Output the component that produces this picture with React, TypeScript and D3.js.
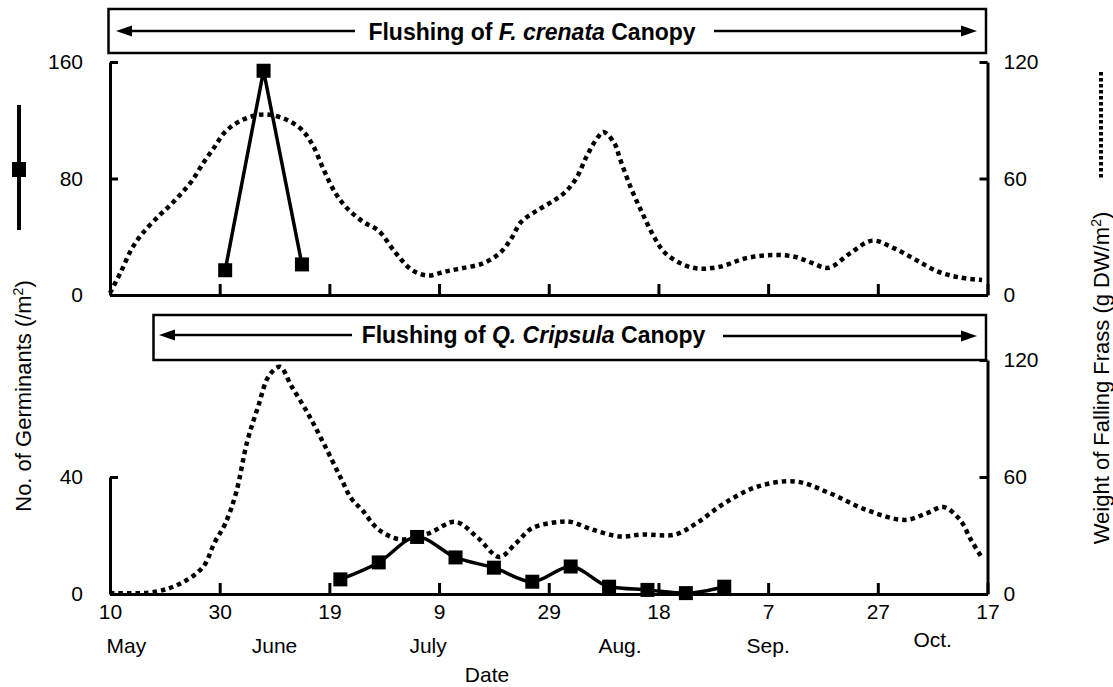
import React, { useEffect, useRef } from "react";
import * as d3 from "d3";

// Sampling dates (all within one season) and the measured series
const seasonStart = "May 10";
const seasonEnd = "Oct 17";
const xTickDates = ["May 10", "May 30", "Jun 19", "Jul 9", "Jul 29", "Aug 18", "Sep 7", "Sep 27", "Oct 17"];
const monthLabels = ["May", "June", "July", "Aug.", "Sep.", "Oct."];
const monthLabelDates = ["May 13", "Jun 9", "Jul 7", "Aug 11", "Sep 7", "Oct 7"];

// F. crenata: germinants (/m2)
const germCrenataDates = ["May 31", "Jun 7", "Jun 14"];
const germCrenataValues = [17, 154, 21];

// F. crenata: falling frass (g DW/m2)
const frassCrenataDates = [
  "May 10", "May 12", "May 14", "May 16", "May 19", "May 21", "May 23", "May 25", "May 27", "May 29",
  "May 31", "Jun 3", "Jun 7", "Jun 11", "Jun 14", "Jun 16", "Jun 18", "Jun 20", "Jun 22", "Jun 25",
  "Jun 28", "Jul 1", "Jul 4", "Jul 7", "Jul 10", "Jul 13", "Jul 17", "Jul 20", "Jul 22", "Jul 24",
  "Jul 27", "Jul 30", "Aug 1", "Aug 3", "Aug 5", "Aug 7", "Aug 8", "Aug 10", "Aug 11", "Aug 13",
  "Aug 15", "Aug 17", "Aug 19", "Aug 22", "Aug 25", "Aug 29", "Sep 3", "Sep 8", "Sep 12", "Sep 15",
  "Sep 18", "Sep 22", "Sep 26", "Sep 30", "Oct 4", "Oct 8", "Oct 12", "Oct 16",
];
const frassCrenataValues = [
  1, 12, 24, 32, 41, 46.3, 52.3, 59, 68, 76,
  84, 90, 93, 90.5, 85, 77, 64.3, 53, 45.4, 38,
  33, 22, 13, 10, 12, 13.7, 16.3, 21.4, 28.3, 37.7,
  43.7, 48.8, 53, 60, 72, 81.4, 84, 78, 70, 55,
  42.5, 31, 22.3, 16.3, 13.7, 14.4, 19, 20.6, 19.6, 16.5,
  14, 21.6, 28, 24, 18, 12, 9, 7.7,
];

// Q. crispula: germinants (/m2)
const germCrispulaDates = ["Jun 21", "Jun 28", "Jul 5", "Jul 12", "Jul 19", "Jul 26", "Aug 2", "Aug 9", "Aug 16", "Aug 23", "Aug 30"];
const germCrispulaValues = [5, 10.8, 19.5, 12.5, 9, 4.2, 9.4, 2.5, 1.4, 0.3, 2.5];

// Q. crispula: falling frass (g DW/m2)
const frassCrispulaDates = [
  "May 10", "May 18", "May 23", "May 27", "May 29", "May 31", "Jun 2", "Jun 4", "Jun 6", "Jun 8",
  "Jun 10", "Jun 12", "Jun 15", "Jun 18", "Jun 21", "Jun 23", "Jun 25", "Jun 28", "Jul 2", "Jul 7",
  "Jul 12", "Jul 16", "Jul 20", "Jul 23", "Jul 26", "Jul 31", "Aug 2", "Aug 6", "Aug 11", "Aug 15",
  "Aug 21", "Aug 25", "Aug 30", "Sep 5", "Sep 12", "Sep 18", "Sep 25", "Oct 2", "Oct 6", "Oct 9",
  "Oct 12", "Oct 14", "Oct 16",
];
const frassCrispulaValues = [
  0.5, 1, 5.6, 14, 26, 36, 52, 78, 96, 112,
  116.5, 107, 93, 77, 60, 49, 43, 33, 28, 31,
  37, 29, 19, 26, 33.8, 37, 37, 33, 29.5, 30.5,
  30.5, 36.4, 46.5, 55, 57.7, 52, 43, 38, 41.5, 44.6,
  38, 27.7, 18.5,
];

const germTicksTop = [0, 80, 160];
const germTicksBottom = [0, 40];
const frassTicks = [0, 60, 120];

const FONT = "'Liberation Sans', Arial, Helvetica, sans-serif";
const parse = d3.timeParse("%b %d");
const toDates = (a: string[]) => a.map((s) => parse(s) as Date);

export default function App() {
  const ref = useRef<SVGGElement | null>(null);

  useEffect(() => {
    const root = d3.select(ref.current);
    root.selectAll("*").remove();

    const x = d3.scaleTime().domain([parse(seasonStart)!, parse(seasonEnd)!]).range([110, 987.5]);
    const [xl, xr] = x.range();

    // Panel geometry
    const top = { y0: 295, y1: 62 };
    const bot = { y0: 594, y1: 360 };

    const yGermTop = d3.scaleLinear().domain([0, 160]).range([top.y0, top.y1]);
    const yFrassTop = d3.scaleLinear().domain([0, 120]).range([top.y0, top.y1]);
    const yGermBot = d3.scaleLinear().domain([0, 80]).range([bot.y0, bot.y1]);
    const yFrassBot = d3.scaleLinear().domain([0, 120]).range([bot.y0, bot.y1]);

    const styleAxis = (g: any) => {
      g.selectAll(".domain").attr("stroke", "#000").attr("stroke-width", 3);
      g.selectAll(".tick line").attr("stroke", "#000").attr("stroke-width", 3);
      g.selectAll(".tick text").attr("fill", "#000").style("font-family", FONT).style("font-size", "21px");
    };

    const tickDates = toDates(xTickDates);

    // ---- Axes ----
    const drawPanelAxes = (
      yG: d3.ScaleLinear<number, number>,
      gTicks: number[],
      yF: d3.ScaleLinear<number, number>,
      y0: number,
      labels: boolean
    ) => {
      const gx = root.append("g").attr("transform", `translate(0,${y0})`);
      gx.call(
        d3
          .axisBottom(x)
          .tickValues(tickDates)
          .tickSizeInner(-11)
          .tickSizeOuter(0)
          .tickPadding(10)
          .tickFormat((d: any) => (labels ? d3.timeFormat("%-d")(d) : ""))
      );
      styleAxis(gx);

      const gMax = gTicks[gTicks.length - 1];
      const axisGerm = yG.copy().domain([0, gMax]).range([yG(0), yG(gMax)]);
      const gl = root.append("g").attr("transform", `translate(${xl},0)`);
      gl.call(d3.axisLeft(axisGerm).tickValues(gTicks).tickSizeInner(-8).tickSizeOuter(0).tickPadding(27));
      styleAxis(gl);

      const gr = root.append("g").attr("transform", `translate(${xr},0)`);
      gr.call(d3.axisRight(yF).tickValues(frassTicks).tickSizeInner(-8).tickSizeOuter(0).tickPadding(16));
      styleAxis(gr);
    };

    drawPanelAxes(yGermTop, germTicksTop, yFrassTop, top.y0, false);
    drawPanelAxes(yGermBot, germTicksBottom, yFrassBot, bot.y0, true);

    // ---- Frass curves (dotted) ----
    const frassSeries: [string[], number[], d3.ScaleLinear<number, number>][] = [
      [frassCrenataDates, frassCrenataValues, yFrassTop],
      [frassCrispulaDates, frassCrispulaValues, yFrassBot],
    ];
    frassSeries.forEach(([ds, vs, yF]) => {
      const pts = toDates(ds).map((d, i) => [d, vs[i]] as [Date, number]);
      const line = d3
        .line<[Date, number]>()
        .x((d) => x(d[0]))
        .y((d) => yF(d[1]))
        .curve(d3.curveCatmullRom.alpha(0.5));
      root
        .append("path")
        .attr("d", line(pts))
        .attr("fill", "none")
        .attr("stroke", "#000")
        .attr("stroke-width", 4.5)
        .attr("stroke-dasharray", "4.5 4");
    });

    // ---- Germinant lines (solid with squares) ----
    const germSeries: [string[], number[], d3.ScaleLinear<number, number>, any][] = [
      [germCrenataDates, germCrenataValues, yGermTop, d3.curveLinear],
      [germCrispulaDates, germCrispulaValues, yGermBot, d3.curveMonotoneX],
    ];
    germSeries.forEach(([ds, vs, yG, curve]) => {
      const pts = toDates(ds).map((d, i) => [d, vs[i]] as [Date, number]);
      const line = d3
        .line<[Date, number]>()
        .x((d) => x(d[0]))
        .y((d) => yG(d[1]))
        .curve(curve);
      root
        .append("path")
        .attr("d", line(pts))
        .attr("fill", "none")
        .attr("stroke", "#000")
        .attr("stroke-width", 3.5);
      root
        .append("g")
        .selectAll("rect")
        .data(pts)
        .join("rect")
        .attr("x", (d) => x(d[0]) - 7)
        .attr("y", (d) => yG(d[1]) - 7)
        .attr("width", 14)
        .attr("height", 14)
        .attr("fill", "#000");
    });

    // ---- Month labels ----
    const monthDates = toDates(monthLabelDates);
    root
      .append("g")
      .selectAll("text")
      .data(monthLabels)
      .join("text")
      .attr("x", (_d, i) => x(monthDates[i]))
      .attr("y", (_d, i) => (i === 5 ? 647 : 653))
      .attr("text-anchor", "middle")
      .style("font-family", FONT)
      .style("font-size", "21px")
      .text((d) => d);
  }, []);

  const arrow = (x1: number, x2: number, y: number) => {
    // shaft from x1 to the arrow tip at x2
    const dir = Math.sign(x2 - x1);
    const base = x2 - dir * 16;
    return (
      <g>
        <line x1={x1} x2={base} y1={y} y2={y} stroke="#000" strokeWidth={2.5} />
        <polygon points={`${x2},${y} ${base},${y - 5.5} ${base},${y + 5.5}`} fill="#000" />
      </g>
    );
  };

  return (
    <svg
      width={1113}
      height={687}
      style={{ position: "absolute", left: 0, top: 0, background: "#fff", display: "block" }}
    >
      <g ref={ref as any} />
      {/* F. crenata banner */}
      <g>
        <rect x={108.5} y={9} width={877.5} height={44} fill="none" stroke="#000" strokeWidth={2.5} />
        {arrow(355, 116, 31)}
        {arrow(714, 977, 31)}
        <text x={532} y={40} textAnchor="middle" fontFamily={FONT} fontSize={23} fontWeight="bold">
          Flushing of <tspan fontStyle="italic">F. crenata</tspan> Canopy
        </text>
      </g>
      {/* Q. crispula banner */}
      <g>
        <rect x={153.5} y={315} width={832.5} height={45} fill="none" stroke="#000" strokeWidth={2.5} />
        {arrow(352, 159, 335)}
        {arrow(723, 977, 336)}
        <text x={533.5} y={343} textAnchor="middle" fontFamily={FONT} fontSize={23} fontWeight="bold">
          Flushing of <tspan fontStyle="italic">Q. Cripsula</tspan> Canopy
        </text>
      </g>
      {/* Left title with solid-line legend key */}
      <line x1={19} x2={19} y1={105} y2={230} stroke="#000" strokeWidth={4} />
      <rect x={12} y={162} width={14} height={15} fill="#000" />
      <text transform="translate(31,396) rotate(-90)" textAnchor="middle" fontFamily={FONT} fontSize={22}>
        No. of Germinants (/m<tspan baselineShift="super" fontSize={14}>2</tspan>)
      </text>
      {/* Right title with dotted-line legend key */}
      <line x1={1101} x2={1101} y1={72} y2={180} stroke="#000" strokeWidth={4} strokeDasharray="3.5 2.5" />
      <text transform="translate(1109,378) rotate(-90)" textAnchor="middle" fontFamily={FONT} fontSize={22}>
        Weight of Falling Frass (g DW/m<tspan baselineShift="super" fontSize={14}>2</tspan>)
      </text>
      {/* x axis title */}
      <text x={487} y={682} textAnchor="middle" fontFamily={FONT} fontSize={21}>
        Date
      </text>
    </svg>
  );
}
